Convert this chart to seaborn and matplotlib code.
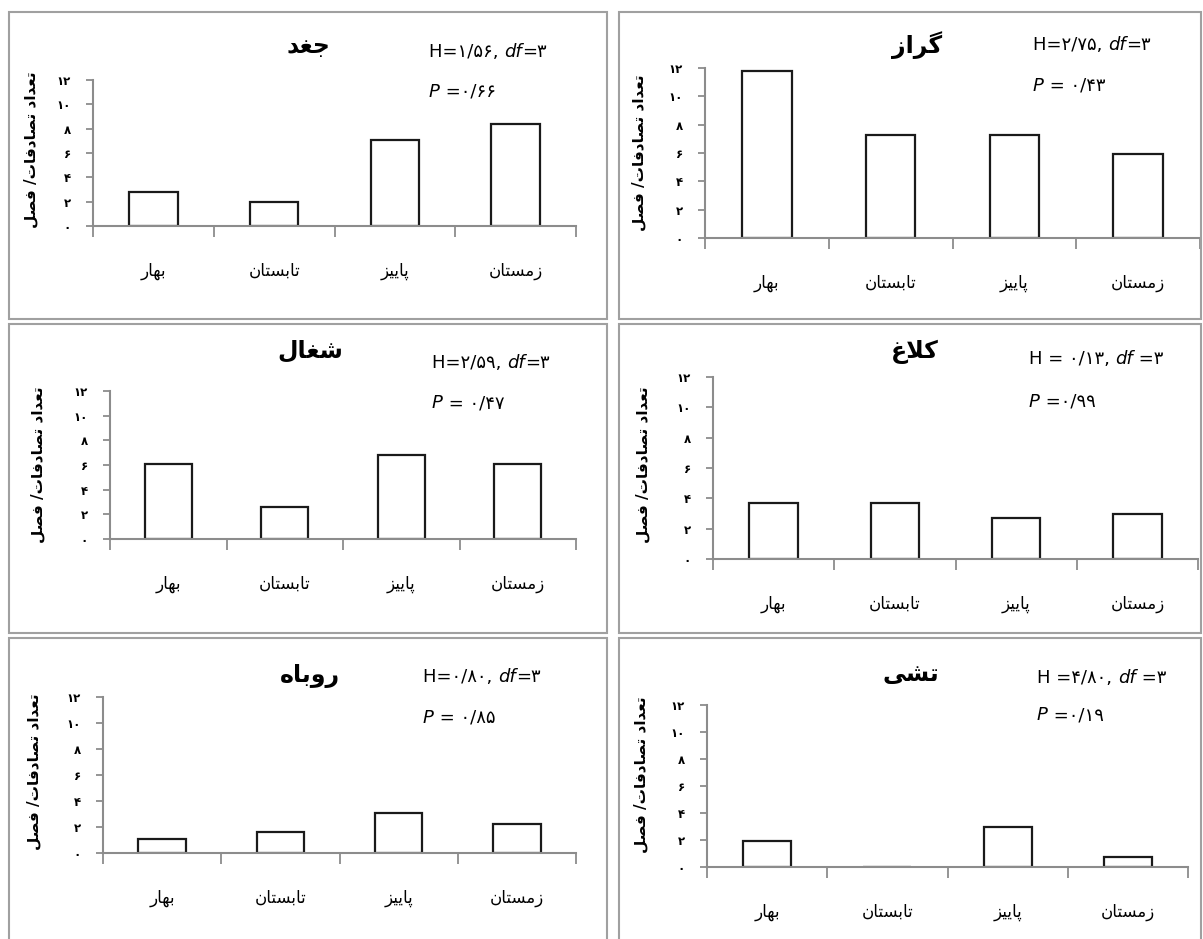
import numpy as np
import pandas as pd
import matplotlib
matplotlib.use("Agg")
import matplotlib.pyplot as plt
from matplotlib.patches import Rectangle
from matplotlib.text import Annotation
import seaborn as sns

# seasons, left to right
seasons = ["بهار", "تابستان", "پاییز", "زمستان"]

# encounters per season
owl = [2.8, 2.0, 7.1, 8.4]        # جغد
boar = [11.8, 7.3, 7.3, 5.9]      # گراز
jackal = [6.1, 2.6, 6.8, 6.1]     # شغال
crow = [3.7, 3.7, 2.7, 3.0]       # کلاغ
fox = [1.1, 1.6, 3.1, 2.2]        # روباه
porcupine = [1.9, 0.0, 3.0, 0.75]  # تشی

names = ["جغد", "گراز", "شغال", "کلاغ", "روباه", "تشی"]
series = [owl, boar, jackal, crow, fox, porcupine]
h_text = ["H=۱/۵۶, ", "H=۲/۷۵, ", "H=۲/۵۹, ", "H = ۰/۱۳, ", "H=۰/۸۰, ", "H =۴/۸۰, "]
df_text = ["=۳", "=۳", "=۳", " =۳", "=۳", " =۳"]
p_text = [" =۰/۶۶", " = ۰/۴۳", " = ۰/۴۷", " =۰/۹۹", " = ۰/۸۵", " =۰/۱۹"]
y_ticks = [0, 2, 4, 6, 8, 10, 12]
y_label = "تعداد تصادفات/ فصل"

# Arabic presentation forms: isolated, final, initial, medial
FORMS = {
    "ا": ("\uFE8D", "\uFE8E", None, None),
    "ب": ("\uFE8F", "\uFE90", "\uFE91", "\uFE92"),
    "پ": ("\uFB56", "\uFB57", "\uFB58", "\uFB59"),
    "ت": ("\uFE95", "\uFE96", "\uFE97", "\uFE98"),
    "ج": ("\uFE9D", "\uFE9E", "\uFE9F", "\uFEA0"),
    "د": ("\uFEA9", "\uFEAA", None, None),
    "ر": ("\uFEAD", "\uFEAE", None, None),
    "ز": ("\uFEAF", "\uFEB0", None, None),
    "س": ("\uFEB1", "\uFEB2", "\uFEB3", "\uFEB4"),
    "ش": ("\uFEB5", "\uFEB6", "\uFEB7", "\uFEB8"),
    "ص": ("\uFEB9", "\uFEBA", "\uFEBB", "\uFEBC"),
    "ع": ("\uFEC9", "\uFECA", "\uFECB", "\uFECC"),
    "غ": ("\uFECD", "\uFECE", "\uFECF", "\uFED0"),
    "ف": ("\uFED1", "\uFED2", "\uFED3", "\uFED4"),
    "ک": ("\uFB8E", "\uFB8F", "\uFB90", "\uFB91"),
    "گ": ("\uFB92", "\uFB93", "\uFB94", "\uFB95"),
    "ل": ("\uFEDD", "\uFEDE", "\uFEDF", "\uFEE0"),
    "م": ("\uFEE1", "\uFEE2", "\uFEE3", "\uFEE4"),
    "ن": ("\uFEE5", "\uFEE6", "\uFEE7", "\uFEE8"),
    "ه": ("\uFEE9", "\uFEEA", "\uFEEB", "\uFEEC"),
    "و": ("\uFEED", "\uFEEE", None, None),
    "ی": ("\uFBFC", "\uFBFD", "\uFBFE", "\uFBFF"),
}


def shape(text):
    """Join Persian letters by hand and return them in visual order."""
    out = []
    i = 0
    n = len(text)
    while i < n:
        ch = text[i]
        if ch not in FORMS:
            out.append(ch)
            i += 1
            continue
        prev = text[i - 1] if i > 0 else ""
        joins_prev = prev in FORMS and FORMS[prev][2] is not None
        if ch == "ل" and i + 1 < n and text[i + 1] == "ا":
            out.append("\uFEFC" if joins_prev else "\uFEFB")
            i += 2
            continue
        nxt = text[i + 1] if i + 1 < n else ""
        joins_next = FORMS[ch][2] is not None and nxt in FORMS
        iso, fin, ini, med = FORMS[ch]
        if joins_prev and joins_next:
            out.append(med)
        elif joins_prev:
            out.append(fin)
        elif joins_next:
            out.append(ini)
        else:
            out.append(iso)
        i += 1
    return "".join(reversed(out))


def fa(num):
    return "".join("۰۱۲۳۴۵۶۷۸۹"[int(c)] for c in str(num))


sns.set_style("ticks")
plt.rcParams["font.family"] = ["DejaVu Sans"]
plt.rcParams["text.color"] = "black"

W, H = 1203, 939
fig = plt.figure(figsize=(W / 100, H / 100), dpi=100)

# panel frames (pixels: left, top, right, bottom)
frames = [(9, 12, 607, 319), (619, 12, 1201, 319),
          (9, 324, 607, 633), (619, 324, 1201, 633),
          (9, 638, 607, 945), (619, 638, 1201, 945)]
# plot areas (pixels: left, top, right, bottom)
areas = [(93, 80, 576, 226), (705, 68, 1200, 238),
         (110, 391, 576, 539), (713, 377, 1198, 559),
         (103, 697, 576, 853), (707, 705, 1188, 867)]
titles_at = [(308, 46), (917, 45), (310, 351), (915, 352), (310, 676), (911, 674)]
stats_at = [(429, 52, 92), (1033, 45, 86), (432, 363, 403),
            (1029, 359, 402), (423, 677, 718), (1037, 678, 715)]
ylab_at = [(31, 150), (639, 153), (38, 465), (643, 465), (34, 772), (641, 775)]

gray = "#8c8c8c"


def fx(px):
    return px / W


def fy(py):
    return 1 - py / H


def draw_parts(x, y, parts, size):
    t = fig.text(fx(x), fy(y), parts[0][0], style=parts[0][1],
                 size=size, ha="left", va="center")
    for s, st in parts[1:]:
        t = fig.add_artist(Annotation(s, xy=(1, 0), xycoords=t, style=st,
                                      size=size, ha="left", va="bottom"))


for k in range(6):
    l, t, r, b = frames[k]
    fig.add_artist(Rectangle((fx(l), fy(b)), fx(r - l), (b - t) / H,
                             transform=fig.transFigure, fill=False,
                             edgecolor="#a0a0a0", linewidth=1.5))

    l, t, r, b = areas[k]
    ax = fig.add_axes([fx(l), fy(b), fx(r - l), (b - t) / H])
    df = pd.DataFrame({"season": [shape(s) for s in seasons], "count": series[k]})
    sns.barplot(data=df, x="season", y="count", ax=ax, color="white",
                saturation=1, edgecolor="#1a1a1a", linewidth=1.6, width=0.4)
    ax.set_xlim(-0.5, 3.5)
    ax.set_ylim(0, 12)
    ax.set_xlabel("")
    ax.set_ylabel("")
    ax.set_yticks(y_ticks)
    ax.set_yticklabels([fa(v) for v in y_ticks], weight="bold")
    ax.set_xticks(np.arange(-0.5, 4, 1))
    ax.set_xticklabels([])
    ax.set_xticks(range(4), minor=True)
    ax.set_xticklabels(df["season"], minor=True)
    ax.tick_params(axis="x", which="major", length=8, width=1.3,
                   color=gray, direction="out")
    ax.tick_params(axis="x", which="minor", length=0, pad=26, labelsize=12,
                   labelcolor="black")
    ax.tick_params(axis="y", length=5, width=1.3, color=gray,
                   direction="out", pad=11, labelsize=8.5, labelcolor="black")
    for side in ["top", "right"]:
        ax.spines[side].set_visible(False)
    for side in ["left", "bottom"]:
        ax.spines[side].set_color(gray)
        ax.spines[side].set_linewidth(1.5)
    ax.patch.set_alpha(0)

    tx, ty = titles_at[k]
    fig.text(fx(tx), fy(ty), shape(names[k]), size=17, weight="bold",
             ha="center", va="center")

    sx, sy1, sy2 = stats_at[k]
    draw_parts(sx, sy1, [(h_text[k], "normal"), ("df", "italic"),
                         (df_text[k], "normal")], 13)
    draw_parts(sx, sy2, [("P", "italic"), (p_text[k], "normal")], 13)

    lx, ly = ylab_at[k]
    fig.text(fx(lx), fy(ly), shape(y_label), size=11, weight="bold",
             rotation=90, ha="center", va="center")

fig.savefig("out.png", dpi=100)
